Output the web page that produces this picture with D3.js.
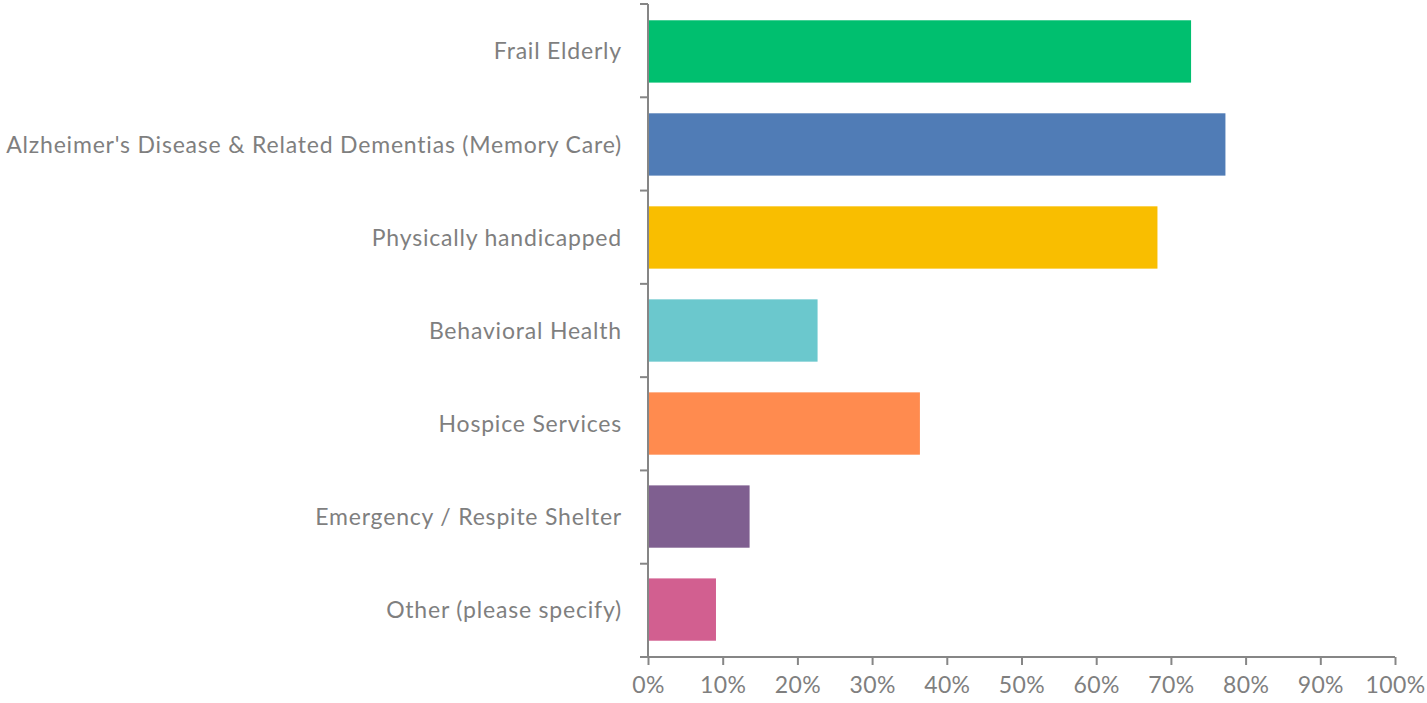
<!DOCTYPE html>
<html>
<head>
<meta charset="utf-8">
<script src="https://cdn.jsdelivr.net/npm/d3@7"></script>
<style>
  body { margin: 0; background: #fff; }
  text { font-family: Lato, "Open Sans", sans-serif; fill: #7f7f7f; }
</style>
</head>
<body>
<script>
const width = 1427, height = 703

const categories = [
  "Frail Elderly",
  "Alzheimer's Disease & Related Dementias (Memory Care)",
  "Physically handicapped",
  "Behavioral Health",
  "Hospice Services",
  "Emergency / Respite Shelter",
  "Other (please specify)"
]
const values = [0.727, 0.773, 0.682, 0.227, 0.364, 0.136, 0.091]
const colors = ["#00bf6f", "#507cb6", "#f9be00", "#6bc8cd", "#ff8b4f", "#7f5f90", "#d25f90"]
const xTicks = [0, 0.1, 0.2, 0.3, 0.4, 0.5, 0.6, 0.7, 0.8, 0.9, 1]

const margin = { left: 648, right: 32, top: 4, bottom: 46 }

const x = d3.scaleLinear()
    .domain([0, 1])
    .range([margin.left, width - margin.right])

const y = d3.scaleBand()
    .domain(categories)
    .range([margin.top, height - margin.bottom])
    .paddingInner(0.33)
    .paddingOuter(0.175)

const svg = d3.select("body").append("svg")
    .attr("width", width)
    .attr("height", height)

// bars
svg.selectAll(".bar")
    .data(categories)
    .enter()
    .append("rect")
      .attr("class", "bar")
      .attr("x", x(0))
      .attr("y", function(d){ return y(d) })
      .attr("width", function(d, i){ return x(values[i]) - x(0) })
      .attr("height", y.bandwidth())
      .style("fill", function(d, i){ return colors[i] })

// y axis: line + ticks at band edges
const step = (height - margin.bottom - margin.top) / categories.length
const yEdges = d3.range(categories.length + 1).map(function(i){ return margin.top + i * step })

svg.append("line")
    .attr("x1", x(0)).attr("x2", x(0))
    .attr("y1", margin.top).attr("y2", height - margin.bottom)
    .style("stroke", "#868686").style("stroke-width", 2)

svg.selectAll(".ytick")
    .data(yEdges)
    .enter()
    .append("line")
      .attr("class", "ytick")
      .attr("x1", x(0) - 8).attr("x2", x(0))
      .attr("y1", function(d){ return d }).attr("y2", function(d){ return d })
      .style("stroke", "#868686").style("stroke-width", 2)

svg.selectAll(".ylabel")
    .data(categories)
    .enter()
    .append("text")
      .attr("class", "ylabel")
      .attr("text-anchor", "end")
      .attr("x", x(0) - 26)
      .attr("y", function(d){ return y(d) + y.bandwidth() / 2 })
      .attr("dy", "0.35em")
      .style("font-size", "23px")
      .style("letter-spacing", "0.8px")
      .text(function(d){ return d })

// x axis
const xAxis = svg.append("g")
    .attr("transform", "translate(0," + (height - margin.bottom) + ")")
    .call(d3.axisBottom(x)
      .tickValues(xTicks)
      .tickFormat(d3.format(".0%"))
      .tickSize(8)
      .tickSizeOuter(0)
      .tickPadding(12))

xAxis.select(".domain")
    .attr("d", "M" + (x(0) - 8) + ",0H" + x(1))
    .style("stroke", "#868686").style("stroke-width", 2)
xAxis.selectAll(".tick line")
    .style("stroke", "#868686").style("stroke-width", 2)
xAxis.selectAll(".tick text")
    .style("font-size", "23px")
    .style("font-family", "Lato, sans-serif")
    .style("letter-spacing", "0.4px")
    .style("fill", "#7f7f7f")
</script>
</body>
</html>
